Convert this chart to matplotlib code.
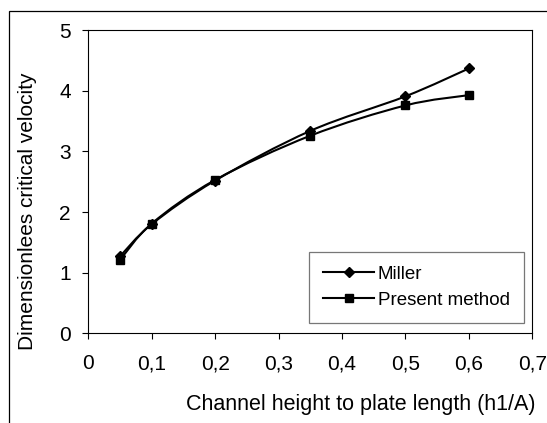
import matplotlib
matplotlib.use('Agg')
import matplotlib.pyplot as plt
from matplotlib.path import Path
from matplotlib.patches import PathPatch, Rectangle
from matplotlib.lines import Line2D

plt.rcParams['font.family'] = ['Liberation Sans', 'DejaVu Sans']

# data
ratio = [0.05, 0.1, 0.2, 0.35, 0.5, 0.6]
miller = [1.27, 1.80, 2.52, 3.34, 3.91, 4.37]
present = [1.21, 1.81, 2.53, 3.26, 3.76, 3.93]

x_ticks = [0, 0.1, 0.2, 0.3, 0.4, 0.5, 0.6, 0.7]
x_labels = ['0', '0,1', '0,2', '0,3', '0,4', '0,5', '0,6', '0,7']
y_ticks = [0, 1, 2, 3, 4, 5]


def smooth_path(xs, ys):
    # Excel style smoothed line: cubic bezier through the points
    pts = list(zip(xs, ys))
    p = [pts[0]] + pts + [pts[-1]]
    verts = [pts[0]]
    codes = [Path.MOVETO]
    for i in range(1, len(p) - 2):
        p0, p1, p2, p3 = p[i - 1], p[i], p[i + 1], p[i + 2]
        c1 = (p1[0] + (p2[0] - p0[0]) / 6, p1[1] + (p2[1] - p0[1]) / 6)
        c2 = (p2[0] - (p3[0] - p1[0]) / 6, p2[1] - (p3[1] - p1[1]) / 6)
        verts += [c1, c2, p2]
        codes += [Path.CURVE4] * 3
    return Path(verts, codes)


fig = plt.figure(figsize=(5.47, 4.23), dpi=100)
ax = fig.add_axes([0.1614, 0.2121, 0.8117, 0.7163])

# outer chart border (cropped on the right and bottom)
fig.add_artist(Rectangle((0.017, -0.1), 1.1, 1.0747, transform=fig.transFigure,
                         fill=False, lw=0.9, ec='black'))

ax.add_patch(PathPatch(smooth_path(ratio, miller), fill=False, lw=1.5, ec='black'))
ax.add_patch(PathPatch(smooth_path(ratio, present), fill=False, lw=1.5, ec='black'))
ax.plot(ratio, miller, ls='none', marker='D', ms=5, color='black')
ax.plot(ratio, present, ls='none', marker='s', ms=5.5, color='black')

ax.set_xlim(0, 0.7)
ax.set_ylim(0, 5)
ax.set_xticks(x_ticks)
ax.set_xticklabels(x_labels)
ax.set_yticks(y_ticks)
ax.tick_params(axis='x', direction='out', length=4, width=0.8, pad=11, labelsize=15)
ax.tick_params(axis='y', direction='out', length=4.5, width=0.8, pad=8, labelsize=15)
for s in ax.spines.values():
    s.set_linewidth(0.8)
    s.set_color('black')

fig.text(0.660, 0.043, 'Channel height to plate length (h1/A)', fontsize=15.5,
         ha='center', va='center')
fig.text(0.051, 0.50, 'Dimensionlees critical velocity', fontsize=15,
         rotation=90, ha='center', va='center')

handles = [Line2D([], [], color='black', lw=1.5, marker='D', ms=5),
           Line2D([], [], color='black', lw=1.5, marker='s', ms=5.5)]
leg = ax.legend(handles, ['Miller', 'Present method'], loc='lower left',
                bbox_to_anchor=(0.498, 0.035), borderaxespad=0, fontsize=13.5,
                handlelength=2.7, handletextpad=0.2, labelspacing=0.45,
                borderpad=0.75, fancybox=False, frameon=True)
leg.get_frame().set_edgecolor('#555555')
leg.get_frame().set_linewidth(0.9)

plt.savefig('out.png', dpi=100)
